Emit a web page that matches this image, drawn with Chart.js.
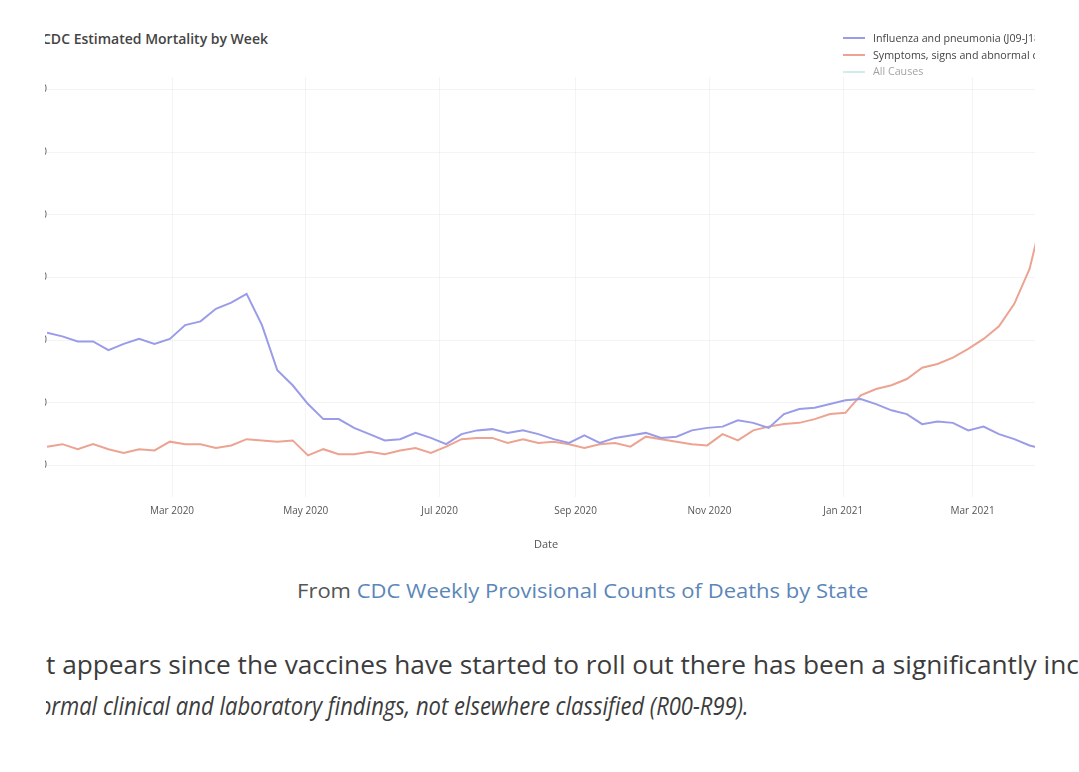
<!DOCTYPE html>
<html>
<head>
<meta charset="utf-8">
<script src="https://cdn.jsdelivr.net/npm/chart.js@4.4.1/dist/chart.umd.min.js"></script>
<style>
  html, body { margin: 0; padding: 0; background: #fff; overflow: hidden; }
  body { width: 1079px; height: 772px; position: relative; font-family: "Open Sans", "Noto Sans", sans-serif; }
  #shot { position: absolute; left: 45px; top: 0; width: 990px; height: 560px; overflow: hidden; }
  #chart-box { position: absolute; left: -48px; top: 67px; width: 1057px; height: 488px; }
  #title { position: absolute; left: -3px; top: 29px; font-size: 14px; line-height: 20px; font-weight: 600; color: #444; white-space: nowrap; }
  #legend { position: absolute; left: 798px; top: 30px; font-size: 10.7px; color: #444; white-space: nowrap; }
  #legend .item { height: 16.7px; line-height: 16.7px; display: flex; align-items: center; }
  #legend .swatch { width: 22px; height: 2px; margin-right: 8px; }
  #legend .off { opacity: 0.5; }
  #caption { position: absolute; left: 0; top: 577px; width: 1166px; text-align: center; white-space: nowrap; }
  #caption span { display: inline-block; font-size: 20px; line-height: 28px; color: #555; transform: scaleX(1.1); }
  #caption a { color: #5b86b8; text-decoration: none; }
  .line { position: absolute; left: 46px; width: 1033px; height: 36px; overflow: hidden; font-size: 25px; line-height: 36px; color: #3c3c3c; white-space: nowrap; }
  .line > span { display: inline-block; }
  #line1 { top: 646px; }
  #line2 { top: 687px; font-style: italic; }
</style>
</head>
<body>
<div id="shot">
  <div id="chart-box"><canvas id="chart"></canvas></div>
  <div id="title">CDC Estimated Mortality by Week</div>
  <div id="legend"></div>
</div>
<div id="caption"><span>From <a href="#">CDC Weekly Provisional Counts of Deaths by State</a></span></div>
<div class="line" id="line1"><span id="text1"><span id="cut1">I</span>t appears since the vaccines have started to roll out there has been a significantly increased number of deaths</span></div>
<div class="line" id="line2"><span id="text2"><span id="cut2">abn</span><span id="cut2o">o</span>rmal clinical and laboratory findings, not elsewhere classified (R00-R99).</span></div>

<script>
// semanas (fin de semana, sábado)
const weekEnding = [
    '2020-01-04', '2020-01-11', '2020-01-18', '2020-01-25', '2020-02-01', '2020-02-08', '2020-02-15', '2020-02-22', '2020-02-29',
    '2020-03-07', '2020-03-14', '2020-03-21', '2020-03-28', '2020-04-04', '2020-04-11', '2020-04-18', '2020-04-25',
    '2020-05-02', '2020-05-09', '2020-05-16', '2020-05-23', '2020-05-30', '2020-06-06', '2020-06-13', '2020-06-20', '2020-06-27',
    '2020-07-04', '2020-07-11', '2020-07-18', '2020-07-25', '2020-08-01', '2020-08-08', '2020-08-15', '2020-08-22', '2020-08-29',
    '2020-09-05', '2020-09-12', '2020-09-19', '2020-09-26', '2020-10-03', '2020-10-10', '2020-10-17', '2020-10-24', '2020-10-31',
    '2020-11-07', '2020-11-14', '2020-11-21', '2020-11-28', '2020-12-05', '2020-12-12', '2020-12-19', '2020-12-26',
    '2021-01-02', '2021-01-09', '2021-01-16', '2021-01-23', '2021-01-30', '2021-02-06', '2021-02-13', '2021-02-20', '2021-02-27',
    '2021-03-06', '2021-03-13', '2021-03-20', '2021-03-27', '2021-04-03'
];

// Influenza and pneumonia (J09-J18)
const influenza = [
    1560, 1530, 1490, 1490, 1420, 1470, 1510, 1470, 1510,
    1620, 1650, 1750, 1800, 1870, 1620, 1260, 1140,
    990, 870, 870, 800, 750, 700, 710, 760, 720,
    670, 750, 780, 790, 760, 780, 750, 710, 680,
    740, 680, 720, 740, 760, 720, 730, 780, 800,
    810, 860, 840, 800, 910, 950, 960, 990,
    1020, 1030, 990, 940, 910, 830, 850, 840, 780,
    810, 750, 710, 660, 630
];

// Symptoms, signs and abnormal clinical and laboratory findings (R00-R99)
const symptoms = [
    650, 670, 630, 670, 630, 600, 630, 620, 690,
    670, 670, 640, 660, 710, 700, 690, 700,
    580, 630, 590, 590, 610, 590, 620, 640, 600,
    650, 710, 720, 720, 680, 710, 680, 690, 670,
    640, 670, 680, 650, 730, 710, 690, 670, 660,
    750, 700, 780, 810, 830, 840, 870, 910,
    920, 1060, 1110, 1140, 1190, 1280, 1310, 1360, 1430,
    1510, 1610, 1790, 2070, 2580
];

// All Causes (oculta en la leyenda)
const allCauses = [];

const tickDates = ['2020-03-01', '2020-05-01', '2020-07-01', '2020-09-01', '2020-11-01', '2021-01-01', '2021-03-01'];
const tickLabels = ['Mar 2020', 'May 2020', 'Jul 2020', 'Sep 2020', 'Nov 2020', 'Jan 2021', 'Mar 2021'];
const yTicks = [500, 1000, 1500, 2000, 2500, 3000, 3500];

const toPoints = (values) => values.map((v, i) => ({ x: Date.parse(weekEnding[i]), y: v }));

const gridColor = 'rgba(0, 0, 0, 0.045)';
const tickFont = { family: '"Open Sans", sans-serif', size: 10 };

const ctx = document.getElementById('chart').getContext('2d');
const chart = new Chart(ctx, {
    type: 'line',
    data: {
        datasets: [{
            label: 'Influenza and pneumonia (J09-J18)',
            data: toPoints(influenza),
            borderColor: '#9a9ce8'
        }, {
            label: 'Symptoms, signs and abnormal clinical and laboratory findings, not elsewhere classified (R00-R99)',
            data: toPoints(symptoms),
            borderColor: '#eda391'
        }, {
            label: 'All Causes',
            data: toPoints(allCauses),
            borderColor: '#a3dcd2',
            hidden: true
        }]
    },
    options: {
        responsive: true,
        maintainAspectRatio: false,
        animation: false,
        layout: { padding: { top: 10, right: 9, bottom: 0, left: 0 } },
        elements: {
            point: { radius: 0 },
            line: { borderWidth: 2, tension: 0 }
        },
        plugins: {
            legend: { display: false },
            tooltip: { enabled: false }
        },
        scales: {
            x: {
                type: 'linear',
                min: Date.parse(weekEnding[0]),
                max: Date.parse(weekEnding[weekEnding.length - 1]),
                afterBuildTicks: (scale) => {
                    scale.ticks = tickDates.map(d => ({ value: Date.parse(d) }));
                },
                grid: { color: gridColor, drawTicks: false },
                border: { display: false },
                ticks: {
                    autoSkip: false,
                    maxRotation: 0,
                    padding: 8,
                    font: tickFont,
                    color: '#555',
                    callback: (value, index) => tickLabels[index]
                },
                title: {
                    display: true,
                    text: 'Date',
                    padding: { top: 13, bottom: 4 },
                    font: { family: '"Open Sans", sans-serif', size: 11 },
                    color: '#555'
                }
            },
            y: {
                min: 250,
                max: 3600,
                afterBuildTicks: (scale) => {
                    scale.ticks = yTicks.map(v => ({ value: v }));
                },
                afterFit: (scale) => { scale.width = 50; },
                grid: { color: gridColor, drawTicks: false },
                border: { display: false },
                ticks: { padding: 0, font: tickFont, color: '#555' }
            }
        }
    }
});

// Leyenda en HTML, construida desde los datasets
const legend = document.getElementById('legend');
chart.data.datasets.forEach(ds => {
    const item = document.createElement('div');
    item.className = 'item' + (ds.hidden ? ' off' : '');
    const sw = document.createElement('span');
    sw.className = 'swatch';
    sw.style.background = ds.borderColor;
    const txt = document.createElement('span');
    txt.textContent = ds.label;
    item.appendChild(sw);
    item.appendChild(txt);
    legend.appendChild(item);
});

// Recorte del texto como en la captura
const w = (id) => document.getElementById(id).getBoundingClientRect().width;
function cropLine(textId, cut, stretch) {
    const el = document.getElementById(textId);
    el.style.marginLeft = -cut + 'px';
    el.style.transformOrigin = cut + 'px 50%';
    el.style.transform = 'scaleX(' + stretch + ')';
}
cropLine('text1', w('cut1'), 1.05);
cropLine('text2', w('cut2') + w('cut2o') * 0.55, 0.88);
</script>
</body>
</html>
